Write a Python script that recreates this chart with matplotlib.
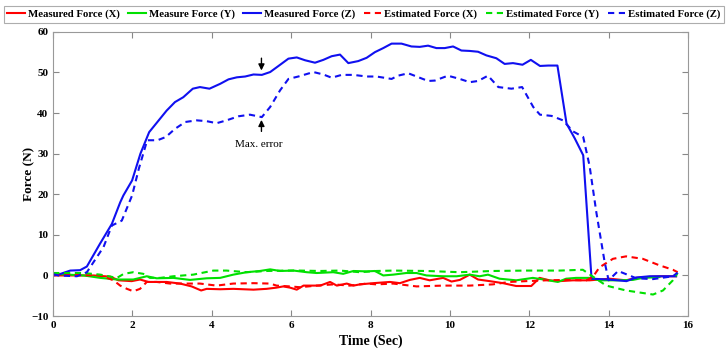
import matplotlib
matplotlib.use("Agg")
import matplotlib.pyplot as plt

plt.rcParams["font.family"] = ["Liberation Serif", "DejaVu Serif"]

# Measured force (Z)
mz_t = [0, 0.13, 0.43, 0.68, 0.85, 1.18, 1.48, 1.69, 1.77, 1.99, 2.2, 2.42, 2.86, 3.07, 3.28, 3.52, 3.7,
        3.94, 4.21, 4.42, 4.63, 4.84, 5.05, 5.26, 5.47, 5.68, 5.93, 6.14, 6.35, 6.6, 6.81, 7.02, 7.23,
        7.44, 7.69, 7.9, 8.11, 8.32, 8.53, 8.78, 9.03, 9.24, 9.45, 9.66, 9.87, 10.08, 10.29, 10.5,
        10.71, 10.92, 11.17, 11.38, 11.59, 11.83, 12.04, 12.27, 12.48, 12.71, 12.94, 13.15, 13.36,
        13.57, 13.99, 14.45, 14.7, 15.04, 15.7]
mz = [0, 0.2, 1.2, 1.3, 2.2, 7.8, 12.7, 18.0, 19.7, 23.4, 30, 35.3, 40.6, 42.7, 43.9, 46, 46.4,
      46, 47.2, 48.3, 48.8, 49, 49.5, 49.4, 50.1, 51.6, 53.4, 53.7, 53, 52.4, 53.1, 54, 54.4,
      52.3, 52.8, 53.6, 55, 56, 57.1, 57.1, 56.4, 56.3, 56.6, 56, 56, 56.4, 55.4, 55.3,
      55.1, 54.2, 53.5, 52.1, 52.3, 51.9, 53.1, 51.6, 51.7, 51.7, 37.4, 33.7, 29.6,
      -0.8, -1, -1.4, -0.5, -0.2, -0.2]

# Estimated force (Z)
ez_t = [0, 0.13, 0.6, 0.85, 1.27, 1.48, 1.73, 1.99, 2.16, 2.37, 2.63, 2.84, 3.07, 3.33, 3.62, 3.87,
        4.12, 4.37, 4.67, 4.96, 5.26, 5.47, 5.72, 5.93, 6.18, 6.56, 6.81, 7.02, 7.27, 7.57, 7.9,
        8.15, 8.53, 8.69, 8.95, 9.16, 9.45, 9.62, 9.95, 10.25, 10.5, 10.71, 10.96, 11.22, 11.55,
        11.82, 12.1, 12.27, 12.56, 12.85, 13.1, 13.36, 13.52, 13.69, 13.9, 14.0, 14.24, 14.7,
        15.12, 15.62, 15.74]
ez = [0.3, 0, -0.2, 0.8, 7, 12.3, 13.5, 19.7, 26.3, 33.3, 33.3, 34.1, 36.1, 37.8, 38.2, 38,
      37.5, 38.2, 39.2, 39.6, 39, 41.5, 45.6, 48.4, 49, 50.1, 49.5, 48.7, 49.4, 49.4, 49,
      49, 48.4, 49.2, 49.8, 49, 47.9, 48, 49.2, 48.4, 47.6, 47.9, 49.2, 46.4, 46,
      46.4, 41.5, 39.6, 39.3, 38.2, 35.5, 34.1, 27, 15.6, 3.3, -1.2, 1.1, -0.7,
      -0.9, -0.2, 0.7]

# Measured force (X)
mx_t = [0, 1.02, 1.44, 1.65, 1.98, 2.19, 2.4, 2.86, 3.2, 3.49, 3.73, 3.87, 4.21, 4.54, 5.05, 5.38,
        5.63, 5.8, 5.97, 6.14, 6.31, 6.73, 6.98, 7.15, 7.4, 7.57, 7.73, 8.07, 8.49, 8.74, 8.99,
        9.24, 9.49, 9.83, 10.04, 10.25, 10.5, 10.71, 11.0, 11.34, 11.67, 12.05, 12.26, 12.51,
        12.76, 13.1, 13.52, 14.02, 14.44, 14.69, 14.94, 15.27, 15.7]
mx = [0, 0, -0.3, -1.2, -1.4, -1, -1.6, -1.6, -2, -2.7, -3.7, -3.3, -3.4, -3.3, -3.5, -3.3,
      -3, -2.7, -3, -3.5, -2.5, -2.5, -1.6, -2.5, -2, -2.5, -2.2, -1.9, -1.6, -1.9, -1.1,
      -0.6, -1.2, -0.6, -1.5, -1.1, 0.2, -1, -1.4, -1.9, -2.6, -2.6, -0.6, -1.2,
      -1.4, -1.2, -1.2, -0.8, -1.2, -0.6, -0.4, -0.2, -0.2]

# Estimated force (X)
ex_t = [0, 1.2, 1.52, 1.69, 1.86, 2.02, 2.19, 2.36, 2.61, 2.95, 3.3, 3.7, 4.12, 4.54, 5.05, 5.47,
        5.63, 5.97, 6.22, 6.64, 7.06, 7.48, 7.9, 8.15, 8.57, 9.16, 9.83, 10.5, 11.08, 11.5,
        11.92, 12.43, 12.93, 13.44, 13.6, 13.77, 14.11, 14.44, 14.86, 15.28, 15.62, 15.74]
ex = [0.2, 0, -1.2, -2.5, -3.3, -3.9, -3.3, -1.6, -1.6, -2, -2, -2, -2.5, -2, -1.9, -2,
      -2.5, -2.7, -2.9, -2.5, -2.2, -2.5, -2, -2.2, -2, -2.7, -2.5, -2.5, -2.2, -1.6,
      -1.4, -1.2, -1.1, -1.2, -0.4, 2, 4.1, 4.7, 4.1, 2.5, 1.4, 0.8]

# Measured force (Y)
my_t = [0, 0.77, 1.19, 1.61, 2.02, 2.36, 2.61, 3.03, 3.45, 3.87, 4.21, 4.54, 4.88, 5.21, 5.47, 5.72,
        6.06, 6.39, 6.64, 7.06, 7.31, 7.57, 7.9, 8.11, 8.32, 8.57, 8.9, 9.16, 9.41, 9.83, 10.17,
        10.5, 10.75, 10.96, 11.25, 11.67, 12.09, 12.43, 12.72, 12.93, 13.18, 13.52, 13.77, 14.19,
        14.61, 14.86, 15.28]
my = [0.4, 0, -0.6, -1, -1, -0.2, -0.7, -0.6, -1.1, -0.7, -0.6, 0.2, 0.8, 1.1, 1.5, 1.1,
      1.2, 0.8, 0.6, 0.8, 0.4, 1.1, 1.0, 1.1, 0, 0.2, 0.6, 0.6, 0, -0.2, -0.2,
      0.2, -0.2, 0.2, -0.8, -1.2, -0.6, -1.1, -1.6, -0.8, -0.6, -0.6, -1.2, -1.2,
      -1.1, -0.6, -0.4]

# Estimated force (Y)
ey_t = [0, 0.77, 1.19, 1.61, 1.78, 2.02, 2.27, 2.44, 2.7, 3.03, 3.53, 4.04, 4.37, 4.88, 5.38, 5.88,
        6.22, 6.73, 7.23, 7.73, 8.15, 8.57, 9.41, 10.25, 11.08, 11.92, 12.76, 13.35, 13.56, 13.94,
        14.44, 15.12, 15.37, 15.62, 15.74]
ey = [0.6, 0.6, 0.2, -0.6, 0.4, 0.8, 0.4, -0.6, -0.6, -0.2, 0.2, 1.2, 1.2, 0.8, 1.1, 1.2,
      1.2, 1.1, 1.2, 0.8, 1.1, 1.2, 1.1, 0.8, 1.1, 1.2, 1.2, 1.4, 0, -2.5,
      -3.7, -4.7, -3.7, -1.2, 0.6]

RED = "#ff0000"
GREEN = "#00e000"
BLUE = "#1010f0"
LW = 1.5
DASH = (0, (3, 2.2))

fig = plt.figure(figsize=(7.28, 3.5), dpi=100)
ax = fig.add_axes([0.073, 0.097, 0.872, 0.812])

ax.plot(mx_t, mx, color=RED, lw=LW, label="Measured Force (X)")
ax.plot(my_t, my, color=GREEN, lw=LW, label="Measure Force (Y)")
ax.plot(mz_t, mz, color=BLUE, lw=LW, label="Measured Force (Z)")
ax.plot(ex_t, ex, color=RED, lw=LW, ls=DASH, label="Estimated Force (X)")
ax.plot(ey_t, ey, color=GREEN, lw=LW, ls=DASH, label="Estimated Force (Y)")
ax.plot(ez_t, ez, color=BLUE, lw=LW, ls=DASH, label="Estimated Force (Z)")

# max error marker
arrow = dict(arrowstyle="-|>", color="black", lw=1, mutation_scale=9)
ax.annotate("", xy=(5.25, 49.8), xytext=(5.25, 54.2), arrowprops=arrow)
ax.annotate("", xy=(5.25, 39.0), xytext=(5.25, 34.8), arrowprops=arrow)
ax.text(5.17, 32.3, "Max. error", ha="center", va="center", fontsize=8)

ax.set_xlim(0, 16)
ax.set_ylim(-10, 60)
ax.set_xticks(range(0, 17, 2))
ax.set_yticks(range(-10, 61, 10))
ax.tick_params(direction="in", top=True, right=True, length=4, color="#888888",
               labelsize=8)
for lbl in ax.get_xticklabels() + ax.get_yticklabels():
    lbl.set_fontweight("bold")
for sp in ax.spines.values():
    sp.set_color("#999999")

ax.set_xlabel("Time (Sec)", fontsize=10, fontweight="bold", labelpad=3)
ax.set_ylabel("Force (N)", fontsize=9.5, fontweight="bold")
ax.yaxis.set_label_coords(-0.028, 0.5)

leg = fig.legend(loc="upper center", bbox_to_anchor=(0.5, 0.99), ncol=6,
                 prop={"weight": "bold", "size": 7.75}, handlelength=1.6,
                 handletextpad=0.3, columnspacing=0.8, borderpad=0.35,
                 borderaxespad=0.2, fancybox=False, edgecolor="#999999")
leg.get_frame().set_linewidth(0.8)

fig.savefig("out.png", dpi=100)
